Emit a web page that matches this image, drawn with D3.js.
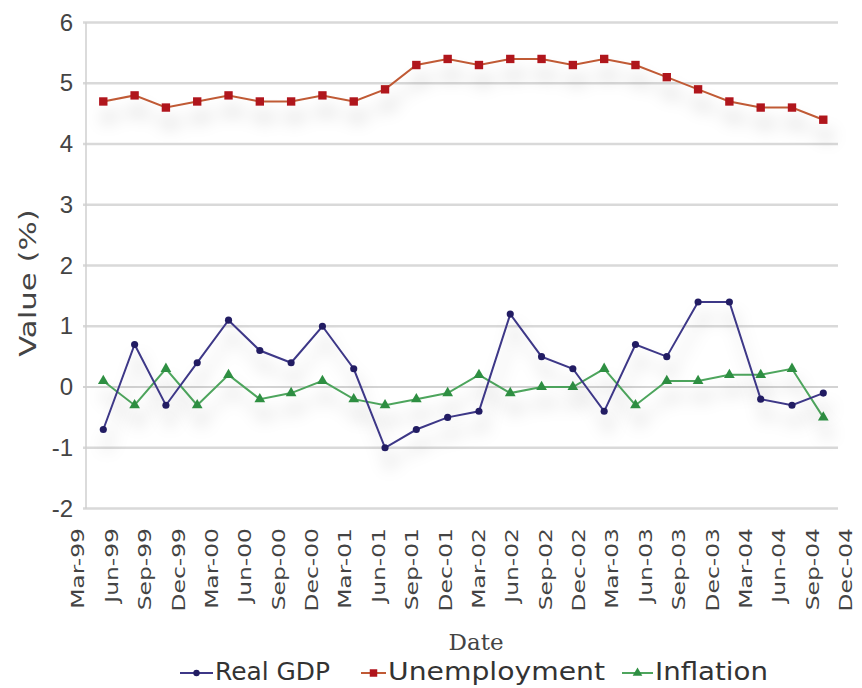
<!DOCTYPE html>
<html>
<head>
<meta charset="utf-8">
<script src="https://cdn.jsdelivr.net/npm/d3@7/dist/d3.min.js"></script>
<style>
  html, body { margin: 0; padding: 0; background: #fff; }
  svg { display: block; font-family: Lato, "Open Sans", sans-serif; }
</style>
</head>
<body>
<svg id="chart" width="862" height="688"></svg>
<script>
// Quarterly dates, Mar-99 through Dec-04
const dates = ["Mar-99","Jun-99","Sep-99","Dec-99","Mar-00","Jun-00","Sep-00","Dec-00",
  "Mar-01","Jun-01","Sep-01","Dec-01","Mar-02","Jun-02","Sep-02","Dec-02",
  "Mar-03","Jun-03","Sep-03","Dec-03","Mar-04","Jun-04","Sep-04","Dec-04"];

const realGDP = [-0.7, 0.7, -0.3, 0.4, 1.1, 0.6, 0.4, 1.0, 0.3, -1.0, -0.7, -0.5,
  -0.4, 1.2, 0.5, 0.3, -0.4, 0.7, 0.5, 1.4, 1.4, -0.2, -0.3, -0.1];

const unemployment = [4.7, 4.8, 4.6, 4.7, 4.8, 4.7, 4.7, 4.8, 4.7, 4.9, 5.3, 5.4,
  5.3, 5.4, 5.4, 5.3, 5.4, 5.3, 5.1, 4.9, 4.7, 4.6, 4.6, 4.4];

const inflation = [0.1, -0.3, 0.3, -0.3, 0.2, -0.2, -0.1, 0.1, -0.2, -0.3, -0.2, -0.1,
  0.2, -0.1, 0.0, 0.0, 0.3, -0.3, 0.1, 0.1, 0.2, 0.2, 0.3, -0.5];

const yTicks = [-2, -1, 0, 1, 2, 3, 4, 5, 6];

const seriesNames = ["Real GDP", "Unemployment", "Inflation"];

const svg = d3.select("#chart");

const plot = { left: 86, right: 838, top: 22.5, bottom: 508.5 };

const y = d3.scaleLinear().domain([-2, 6]).range([plot.bottom, plot.top]);
// category labels span the full axis; the marks sit on the inner positions
const xLabel = d3.scalePoint().domain(dates).range([77.5, 845]);
const x = d3.scalePoint().domain(dates).range([103.3, 823.3]);

// soft drop shadow under the lines
const defs = svg.append("defs");
const f = defs.append("filter").attr("id", "shadow")
  .attr("x", "-10%").attr("y", "-40%").attr("width", "130%").attr("height", "220%");
f.append("feDropShadow").attr("dx", 4).attr("dy", 16).attr("stdDeviation", 8)
  .attr("flood-color", "#000").attr("flood-opacity", 0.2);

// horizontal gridlines
svg.append("g").selectAll("line").data(yTicks).join("line")
  .attr("x1", plot.left - 3).attr("x2", plot.right)
  .attr("y1", d => y(d)).attr("y2", d => y(d))
  .attr("stroke", d => d === 0 ? "#a8a8a8" : "#d9d9d9")
  .attr("stroke-width", d => d === 0 ? 1.2 : 2.4);

// vertical axis line
svg.append("line")
  .attr("x1", plot.left).attr("x2", plot.left)
  .attr("y1", plot.top).attr("y2", plot.bottom)
  .attr("stroke", "#cfcfcf").attr("stroke-width", 1.5);

// y axis
const yAxis = svg.append("g")
  .attr("transform", `translate(${plot.left},0)`)
  .call(d3.axisLeft(y).tickValues(yTicks).tickSize(0).tickPadding(13)
    .tickFormat(d => d < 0 ? "-" + Math.abs(d) : d));
yAxis.select(".domain").remove();
yAxis.selectAll("text").attr("font-size", 24).attr("fill", "#444");

// x axis labels, rotated and drawn tall
const xAxis = svg.append("g")
  .attr("transform", `translate(0,${plot.bottom})`)
  .call(d3.axisBottom(xLabel).tickSize(0).tickPadding(0));
xAxis.select(".domain").remove();
xAxis.selectAll("text")
  .attr("font-family", "'DejaVu Sans', sans-serif")
  .attr("font-size", 18).attr("fill", "#444")
  .attr("text-anchor", "end")
  .attr("dy", "0.36em")
  .attr("transform", "translate(0,19.5) rotate(-90) scale(1.3,1)")
  .attr("x", 0).attr("y", 0);

// axis titles
svg.append("text")
  .attr("transform", "translate(28,283) rotate(-90) scale(1.34,1)")
  .attr("text-anchor", "middle")
  .attr("dy", "0.36em")
  .attr("font-family", "'DejaVu Sans', sans-serif")
  .attr("font-size", 23).attr("fill", "#444")
  .text("Value (%)");

svg.append("text")
  .attr("x", 476).attr("y", 650)
  .attr("text-anchor", "middle")
  .attr("font-family", "'DejaVu Serif', serif")
  .attr("font-size", 22).attr("fill", "#444")
  .attr("textLength", 55).attr("lengthAdjust", "spacingAndGlyphs")
  .text("Date");

const line = d3.line().x((d, i) => x(dates[i])).y(d => y(d));

const styles = [
  { data: realGDP, line: "#3d3787", marker: "#221d63", symbol: d3.symbolCircle, size: 40 },
  { data: unemployment, line: "#c05a35", marker: "#b0141c", symbol: d3.symbolSquare, size: 70 },
  { data: inflation, line: "#4ea55d", marker: "#2e8f42", symbol: d3.symbolTriangle, size: 50 }
];

const order = [1, 2, 0];
order.forEach(k => {
  const s = styles[k];
  const g = svg.append("g").attr("filter", "url(#shadow)");
  g.append("path").datum(s.data)
    .attr("d", line).attr("fill", "none")
    .attr("stroke", s.line).attr("stroke-width", 2);
  g.selectAll("path.m").data(s.data).join("path").attr("class", "m")
    .attr("transform", (d, i) => `translate(${x(dates[i])},${y(d)})`)
    .attr("d", d3.symbol().type(s.symbol).size(s.size))
    .attr("fill", s.marker);
});

// legend
const legendItems = [
  { name: seriesNames[0], sx: 180, tx: 215, w: 115 },
  { name: seriesNames[1], sx: 361, tx: 388, w: 217 },
  { name: seriesNames[2], sx: 622, tx: 655, w: 113 }
];
const legend = svg.append("g");
legendItems.forEach((it, k) => {
  const s = styles[k];
  const cy = 673;
  legend.append("line")
    .attr("x1", it.sx).attr("x2", it.tx - 2)
    .attr("y1", cy).attr("y2", cy)
    .attr("stroke", s.line).attr("stroke-width", 2);
  legend.append("path")
    .attr("transform", `translate(${(it.sx + it.tx - 2) / 2},${cy})`)
    .attr("d", d3.symbol().type(s.symbol).size(s.size * 0.8))
    .attr("fill", s.marker);
  legend.append("text")
    .attr("x", it.tx).attr("y", 680)
    .attr("font-family", "'DejaVu Sans', sans-serif")
    .attr("font-size", 25).attr("fill", "#333")
    .attr("textLength", it.w).attr("lengthAdjust", "spacingAndGlyphs")
    .text(it.name);
});
</script>
</body>
</html>
